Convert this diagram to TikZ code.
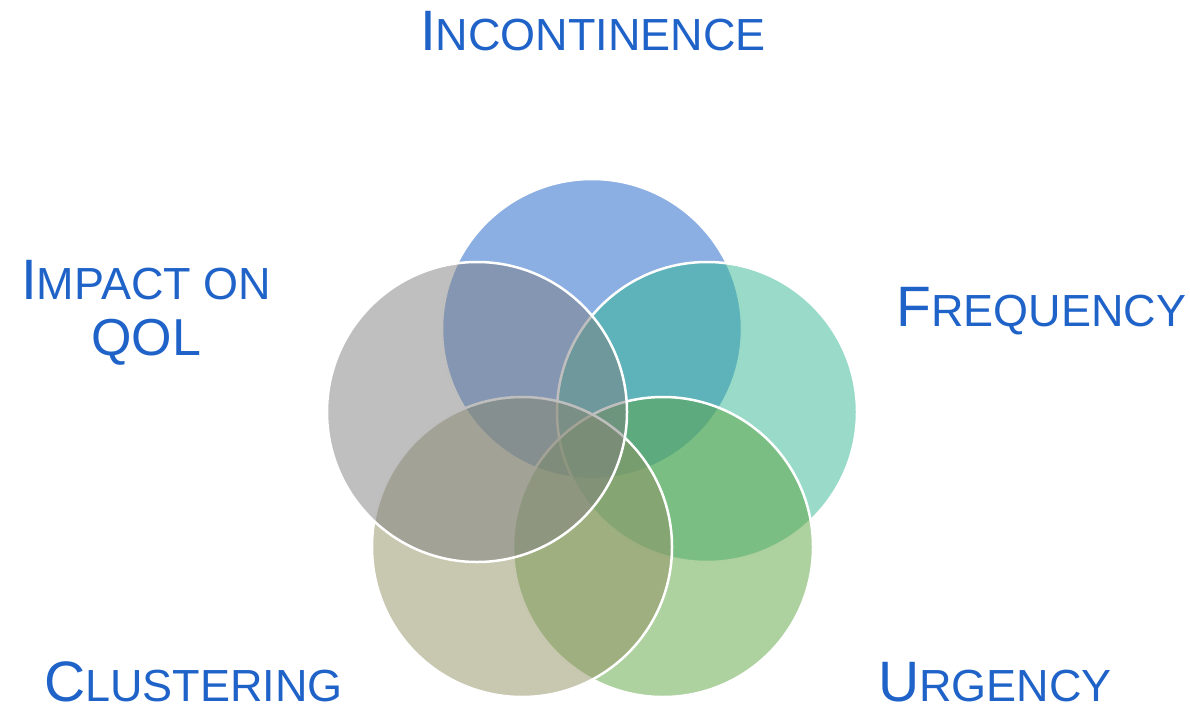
\documentclass[tikz,border=0pt]{standalone}
\usepackage{fontspec}
\setmainfont{Liberation Sans}
\begin{document}
\definecolor{labelblue}{RGB}{31,99,201}
\definecolor{vblue}{RGB}{23,95,199}
\definecolor{vteal}{RGB}{51,183,145}
\definecolor{vgreen}{RGB}{93,163,65}
\definecolor{vtan}{RGB}{145,143,97}
\definecolor{vgray}{RGB}{127,127,127}
% first letter large, the rest as small capitals
\newcommand\capsmall[2]{{\fontsize{57}{60}\selectfont #1}{\fontsize{45}{50}\selectfont #2}}
\begin{tikzpicture}[x=1pt,y=-1pt,
  vcircle/.style={circle, minimum size=300pt, inner sep=0pt, fill=#1,
    fill opacity=0.5, draw=white, draw opacity=1, line width=2.5pt},
  vlabel/.style={text=labelblue, inner sep=0pt}]
\useasboundingbox (0,0) rectangle (1190,706);
% overlapping circles, later ones drawn on top
\node[vcircle=vblue]  (incont)  at (592,329) {};
\node[vcircle=vteal]  (freq)    at (707,412) {};
\node[vcircle=vgreen] (urg)     at (663,547) {};
\node[vcircle=vtan]   (clust)   at (522,547) {};
\node[vcircle=vgray]  (impact)  at (477,412) {};
% labels
\node[vlabel, anchor=base] (tincont) at (593,51) {\capsmall{I}{NCONTINENCE}};
\node[vlabel, anchor=base west] (tfreq) at (896,326) {\capsmall{F}{REQUENCY}};
\node[vlabel, anchor=base west] (turg) at (878,701) {\capsmall{U}{RGENCY}};
\node[vlabel, anchor=base west] (tclust) at (44,701) {\capsmall{C}{LUSTERING}};
\node[vlabel, anchor=base, align=center, font=\fontsize{52}{56}\selectfont]
  (timpact) at (146,355) {\capsmall{I}{MPACT ON}\\QOL};
\end{tikzpicture}
\end{document}
